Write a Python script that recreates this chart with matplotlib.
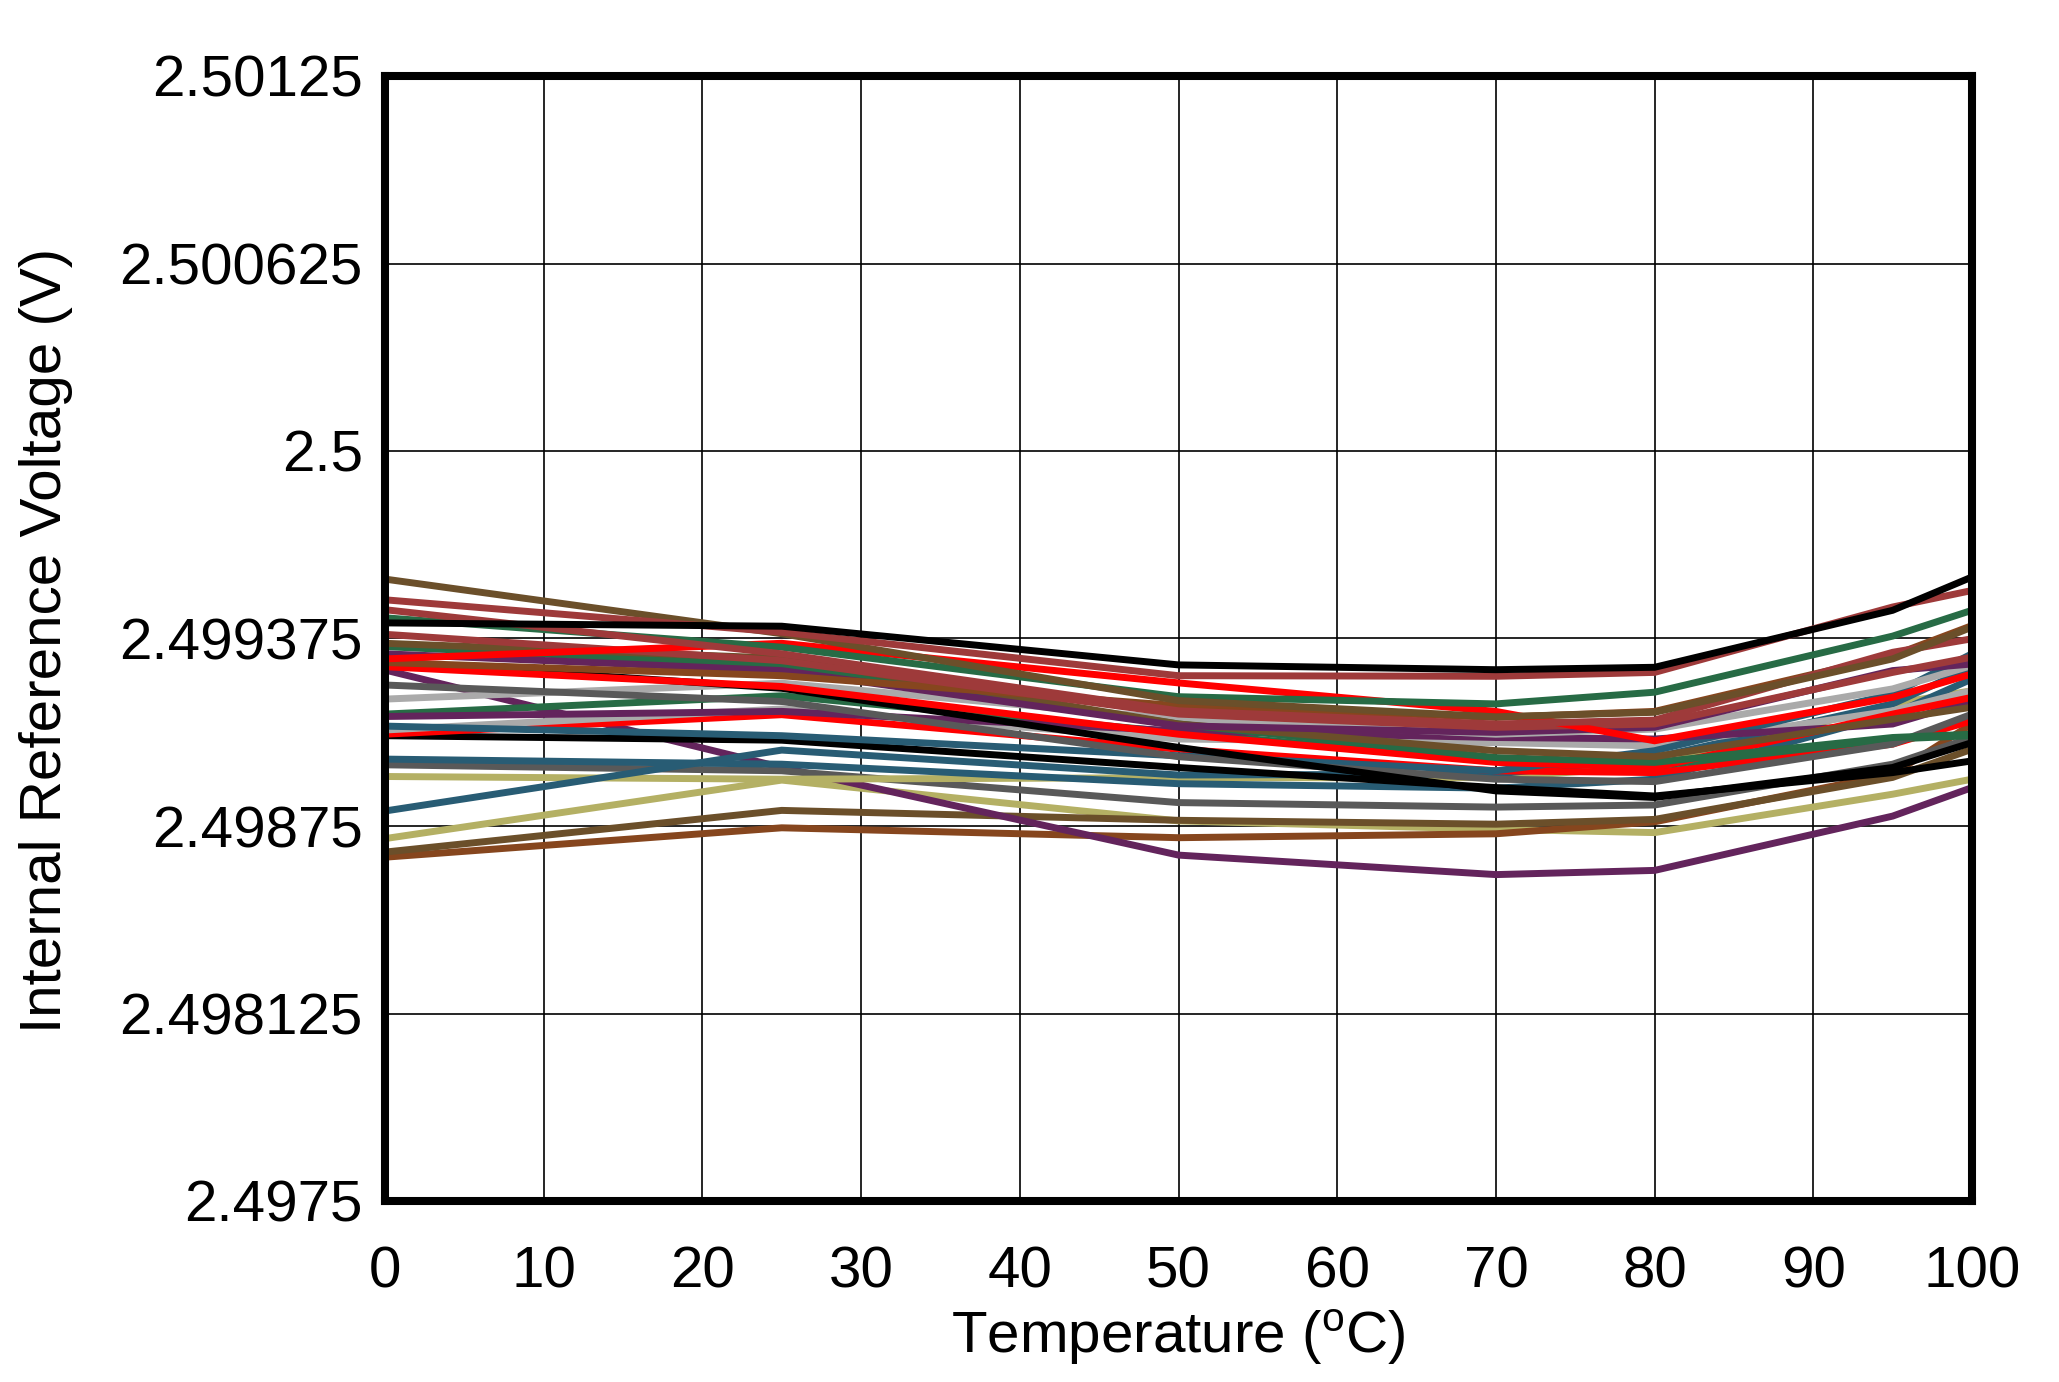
import matplotlib
matplotlib.use("Agg")
import matplotlib.pyplot as plt

plt.rcParams['font.family'] = ['Liberation Sans', 'DejaVu Sans']
plt.rcParams['mathtext.fontset'] = 'custom'
plt.rcParams['mathtext.rm'] = 'Liberation Sans'

temps = [0, 25, 50, 70, 80, 95, 100]

# one row per unit: (colour, voltages at each temperature)
black_1 = [2.499427, 2.499416, 2.499287, 2.499271, 2.499279, 2.499469, 2.499580]
redbrown_1 = [2.499504, 2.499396, 2.499251, 2.499249, 2.499262, 2.499480, 2.499535]
olive_1 = [2.499573, 2.499391, 2.499168, 2.499114, 2.499129, 2.499307, 2.499413]
redbrown_2 = [2.499471, 2.499324, 2.499134, 2.499090, 2.499103, 2.499329, 2.499374]
green_1 = [2.499444, 2.499346, 2.499181, 2.499157, 2.499196, 2.499383, 2.499469]
red_1 = [2.499307, 2.499359, 2.499227, 2.499132, 2.499034, 2.499179, 2.499257]
redbrown_3 = [2.499389, 2.499301, 2.499123, 2.499079, 2.499090, 2.499262, 2.499313]
olive_2 = [2.499359, 2.499309, 2.499090, 2.499001, 2.498981, 2.499106, 2.499146]
green_2 = [2.499348, 2.499285, 2.499090, 2.498978, 2.498962, 2.499045, 2.499056]
purple_1 = [2.499324, 2.499268, 2.499084, 2.499062, 2.499079, 2.499268, 2.499290]
black_2 = [2.499299, 2.499209, 2.499012, 2.498867, 2.498845, 2.498945, 2.499028]
sienna_1 = [2.499295, 2.499251, 2.499151, 2.499112, 2.499132, 2.499318, 2.499418]
red_2 = [2.499281, 2.499215, 2.499056, 2.498962, 2.498945, 2.499123, 2.499179]
purple_2 = [2.499270, 2.498945, 2.498653, 2.498588, 2.498602, 2.498783, 2.498878]
dgray_1 = [2.499220, 2.499165, 2.498981, 2.498906, 2.498898, 2.499023, 2.499123]
lgray_1 = [2.499173, 2.499226, 2.499106, 2.499056, 2.499073, 2.499207, 2.499285]
purple_3 = [2.499115, 2.499132, 2.499067, 2.499045, 2.499040, 2.499090, 2.499168]
green_3 = [2.499123, 2.499184, 2.499062, 2.498967, 2.498950, 2.499040, 2.499051]
teal_1 = [2.499083, 2.499051, 2.498984, 2.498934, 2.499001, 2.499190, 2.499324]
dgray_2 = [2.498954, 2.498934, 2.498828, 2.498813, 2.498820, 2.498956, 2.499045]
khaki_1 = [2.498915, 2.498906, 2.498911, 2.498911, 2.498950, 2.499157, 2.499201]
khaki_2 = [2.498708, 2.498903, 2.498767, 2.498739, 2.498728, 2.498856, 2.498906]
olive_3 = [2.498663, 2.498802, 2.498769, 2.498756, 2.498772, 2.498912, 2.499006]
sienna_2 = [2.498646, 2.498744, 2.498711, 2.498724, 2.498764, 2.498923, 2.499090]
black_3 = [2.499051, 2.499036, 2.498945, 2.498878, 2.498850, 2.498928, 2.498967]
red_3 = [2.499056, 2.499121, 2.499006, 2.498934, 2.498928, 2.499023, 2.499101]
lgray_2 = [2.499070, 2.499140, 2.499040, 2.499028, 2.499017, 2.499134, 2.499201]
teal_2 = [2.498973, 2.498956, 2.498891, 2.498876, 2.498906, 2.499123, 2.499240]
teal_3 = [2.498800, 2.499003, 2.498920, 2.498923, 2.498978, 2.499157, 2.499279]

BLACK = '#000000'
REDBROWN = '#9E3A3A'
OLIVE = '#6B4F2A'
GREEN = '#276B45'
RED = '#FF0000'
PURPLE = '#63245C'
SIENNA = '#86461E'
DGRAY = '#595959'
LGRAY = '#AAAAAA'
TEAL = '#285C74'
KHAKI = '#B4B064'

series = [
    (KHAKI, khaki_2), (SIENNA, sienna_2), (OLIVE, olive_3), (PURPLE, purple_2),
    (DGRAY, dgray_2), (KHAKI, khaki_1), (TEAL, teal_3), (TEAL, teal_2),
    (BLACK, black_3), (RED, red_3), (LGRAY, lgray_2), (TEAL, teal_1),
    (GREEN, green_3), (PURPLE, purple_3), (LGRAY, lgray_1), (DGRAY, dgray_1),
    (BLACK, black_2), (RED, red_2), (GREEN, green_2), (OLIVE, olive_2),
    (PURPLE, purple_1), (SIENNA, sienna_1), (REDBROWN, redbrown_3),
    (RED, red_1), (GREEN, green_1), (REDBROWN, redbrown_2), (OLIVE, olive_1),
    (REDBROWN, redbrown_1), (BLACK, black_1),
]

y_ticks = [2.4975, 2.498125, 2.49875, 2.499375, 2.5, 2.500625, 2.50125]
y_labels = ['2.4975', '2.498125', '2.49875', '2.499375', '2.5', '2.500625', '2.50125']
x_ticks = list(range(0, 101, 10))

fig = plt.figure(figsize=(10.295, 6.91), dpi=200)
ax = fig.add_axes([385/2059, 1 - 1201/1382, (1972 - 385)/2059, (1201 - 76)/1382])

for color, vals in series:
    ax.plot(temps, vals, color=color, lw=2.5, solid_joinstyle='miter')

ax.set_xlim(0, 100)
ax.set_ylim(2.4975, 2.50125)
ax.set_xticks(x_ticks)
ax.set_yticks(y_ticks)
ax.set_yticklabels(y_labels)
ax.grid(True, color='black', lw=0.6)
ax.set_axisbelow(True)
ax.tick_params(length=0, labelsize=21, pad=8)
ax.tick_params(axis='x', pad=16)
for sp in ax.spines.values():
    sp.set_linewidth(2.9)

fig.text(46/2059, 1 - 640/1382, 'Internal Reference Voltage (V)', rotation=90,
         ha='center', va='center', fontsize=21)
fig.text((385 + 1972)/2/2059, 1 - 1337/1382, r'Temperature ($\mathregular{^{o}}$C)',
         ha='center', va='center', fontsize=21)

fig.savefig('out.png', dpi=200)
